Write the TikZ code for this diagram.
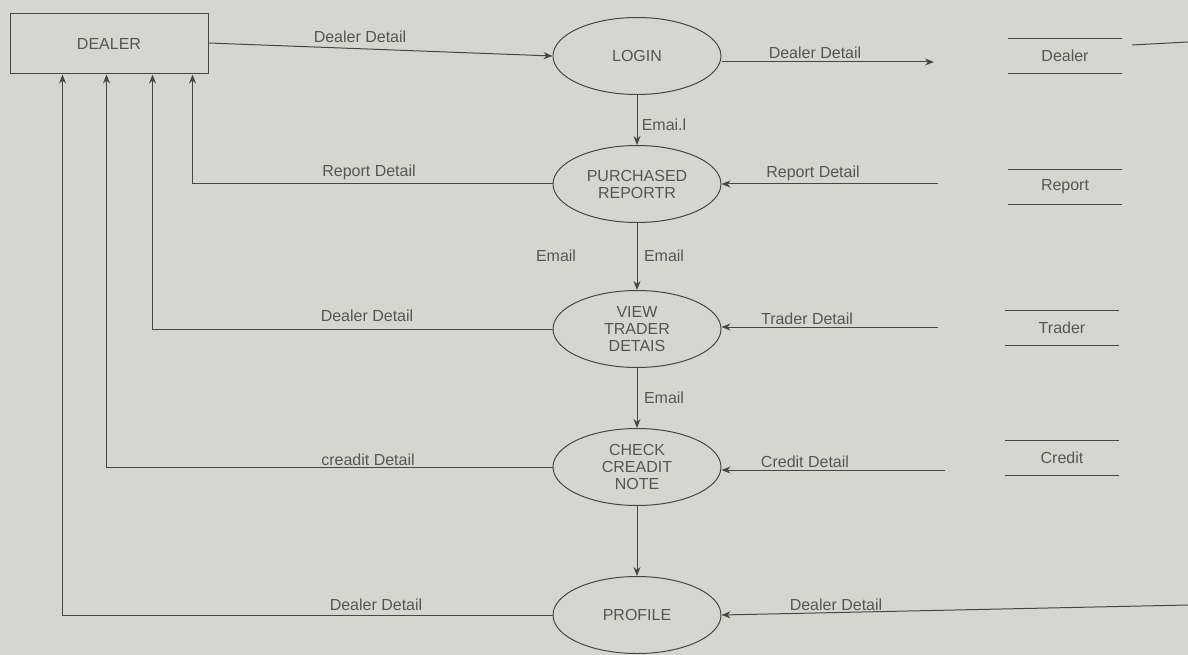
\documentclass[tikz,border=0pt]{standalone}
\usepackage{fontspec}
\setmainfont{Liberation Sans}
\usetikzlibrary{shapes.geometric,arrows.meta}
\definecolor{bg}{RGB}{214,214,209}
\definecolor{ink}{RGB}{70,70,70}
\definecolor{txt}{RGB}{85,85,85}
\begin{document}
\begin{tikzpicture}[x=1pt,y=-1pt,
  proc/.style={ellipse,draw=ink,line width=1pt,minimum width=168pt,minimum height=77pt,inner sep=0pt,align=center,text=txt,font=\fontsize{16}{17}\selectfont},
  ent/.style={rectangle,draw=ink,line width=1pt,minimum width=198pt,minimum height=60pt,text=txt,font=\fontsize{16}{17}\selectfont},
  store/.style={minimum width=114pt,minimum height=34pt,inner sep=0pt,text=txt,font=\fontsize{16}{17}\selectfont},
  lbl/.style={text=txt,font=\fontsize{16}{17}\selectfont,inner sep=1pt},
  flow/.style={draw=ink,line width=1pt,-{Stealth[length=9pt,width=7pt]}},
  line/.style={draw=ink,line width=1pt}]
\fill[bg] (0,0) rectangle (1188,655);
\useasboundingbox (0,0) rectangle (1188,655);
% entity
\node[ent] (dealer) at (109,44) {DEALER};
% processes
\node[proc] (login) at (637,56) {LOGIN};
\node[proc] (prep) at (637,184) {PURCHASED\\REPORTR};
\node[proc] (view) at (637,329) {VIEW\\TRADER\\DETAIS};
\node[proc] (check) at (637,467) {CHECK\\CREADIT\\NOTE};
\node[proc] (profile) at (637,615) {PROFILE};
% stores
\node[store] (sdealer) at (1065,56) {Dealer};
\node[store] (sreport) at (1065,187) {Report};
\node[store] (strader) at (1062,328) {Trader};
\node[store] (scredit) at (1062,458) {Credit};
\foreach \s in {sdealer,sreport,strader,scredit}{
  \draw[line] (\s.north west) -- (\s.north east);
  \draw[line] (\s.south west) -- (\s.south east);
}
\coordinate (sx1) at (1132,45);
\coordinate (sx2) at (1188,42);
\draw[line] (sx1) -- (sx2);
% free ends
\coordinate (loginout) at (934,62);
\coordinate (repin) at (938,184);
\coordinate (trin) at (938,327);
\coordinate (crin) at (945,470);
\coordinate (prin) at (1188,605);
% flows
\draw[flow] (dealer.east |- 0,43) -- (login.west);
\node[lbl] (l1) at (360,37) {Dealer Detail};
\draw[flow] (login.east |- loginout) -- (loginout);
\node[lbl] (l2) at (815,53) {Dealer Detail};
\draw[flow] (login.south) -- (prep.north);
\node[lbl] (l3) at (664,125) {Emai.l};
\draw[flow] (repin) -- (prep.east);
\node[lbl] (l4) at (813,173) {Report Detail};
\draw[flow] (prep.west) -| ([xshift=183pt]dealer.south west);
\node[lbl] (l5) at (369,172) {Report Detail};
\draw[flow] (prep.south) -- (view.north);
\node[lbl] (l6) at (556,256) {Email};
\node[lbl] (l7) at (664,256) {Email};
\draw[flow] (trin) -- (trin -| view.east);
\node[lbl] (l8) at (807,319) {Trader Detail};
\draw[flow] (view.west) -| ([xshift=143pt]dealer.south west);
\node[lbl] (l9) at (367,316) {Dealer Detail};
\draw[flow] (view.south) -- (check.north);
\node[lbl] (l10) at (664,398) {Email};
\draw[flow] (crin) -- (crin -| check.east);
\node[lbl] (l11) at (805,462) {Credit Detail};
\draw[flow] (check.west) -| ([xshift=97pt]dealer.south west);
\node[lbl] (l12) at (368,460) {creadit Detail};
\draw[flow] (check.south) -- (profile.north);
\draw[flow] (prin) -- (profile.east);
\node[lbl] (l13) at (836,605) {Dealer Detail};
\draw[flow] (profile.west) -| ([xshift=53pt]dealer.south west);
\node[lbl] (l14) at (376,605) {Dealer Detail};
\end{tikzpicture}
\end{document}
